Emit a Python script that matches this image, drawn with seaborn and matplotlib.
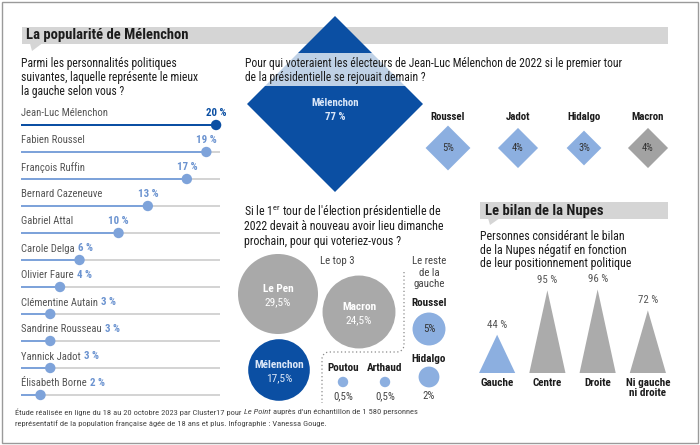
import numpy as np
import matplotlib
matplotlib.use("Agg")
import matplotlib.pyplot as plt
import seaborn as sns
from matplotlib import font_manager as fm
from matplotlib.path import Path
from matplotlib.patches import Rectangle, Polygon

# ---------------- data ----------------
gauche_names = ["Jean-Luc Mélenchon", "Fabien Roussel", "François Ruffin", "Bernard Cazeneuve",
                "Gabriel Attal", "Carole Delga", "Olivier Faure", "Clémentine Autain",
                "Sandrine Rousseau", "Yannick Jadot", "Élisabeth Borne"]
gauche_values = [20, 19, 17, 13, 10, 6, 4, 3, 3, 3, 2]

report_names = ["Mélenchon", "Roussel", "Jadot", "Hidalgo", "Macron"]
report_values = [77, 5, 4, 3, 4]
report_labels = ["77 %", "5%", "4%", "3%", "4%"]

vote_names = ["Le Pen", "Macron", "Mélenchon", "Roussel", "Hidalgo", "Poutou", "Arthaud"]
vote_values = [29.5, 24.5, 17.5, 5, 2, 0.5, 0.5]
vote_labels = ["29,5%", "24,5%", "17,5%", "5%", "2%", "0,5%", "0,5%"]

nupes_cats = ["Gauche", "Centre", "Droite", "Ni gauche\nni droite"]
nupes_values = [44, 95, 96, 72]

# ---------------- style ----------------
sns.set_style("white")
avail = {f.name for f in fm.fontManager.ttflist}
if "Liberation Sans Narrow" in avail:
    FAM = ["Liberation Sans Narrow", "DejaVu Sans"]
elif "Roboto Condensed" in avail:
    FAM = ["Roboto Condensed", "DejaVu Sans"]
else:
    FAM = ["Roboto", "DejaVu Sans"]
plt.rcParams["font.family"] = FAM

DARK = "#0b4fa3"
LIGHT = "#8cafe0"
LOLLI = "#7ea3da"
GREY = "#a9a9a9"
TXT = "#1c1c1c"

W, H = 700, 445
fig = plt.figure(figsize=(7, 4.45), dpi=100)
ax = fig.add_axes([0, 0, 1, 1])
ax.set_xlim(0, W)
ax.set_ylim(H, 0)
ax.axis("off")
R = fig.canvas.get_renderer()


def px_axes(x0, y0, x1, y1):
    a = fig.add_axes([x0 / W, 1 - y1 / H, (x1 - x0) / W, (y1 - y0) / H])
    a.patch.set_alpha(0)
    return a


def to_px(a, x, y):
    dx, dy = a.transData.transform((x, y))
    return dx, H - dy


def T(x, y, s, **kw):
    kw.setdefault("va", "center")
    kw.setdefault("color", TXT)
    return ax.text(x, y, s, **kw)


# ---------------- frame & headers ----------------
ax.add_patch(Rectangle((1.5, 1.5), 696, 441, fill=False, ec="#9a9a9a", lw=1, zorder=0))
ax.add_patch(Rectangle((22, 27), 646, 17, fc="#d5d5d5", ec="none", zorder=1))
ax.add_patch(Polygon([(30, 43.5), (42, 43.5), (32, 51)], fc="#d5d5d5", ec="none", zorder=1))
T(26, 35.5, "La popularité de Mélenchon", fontsize=10.5, fontweight="bold", zorder=6)

ax.add_patch(Rectangle((480, 202), 188, 16.5, fc="#d5d5d5", ec="none", zorder=1))
ax.add_patch(Polygon([(488, 218), (500, 218), (490, 225)], fc="#d5d5d5", ec="none", zorder=1))
T(485, 210.5, "Le bilan de la Nupes", fontsize=10.5, fontweight="bold", zorder=6)

# ---------------- left: lollipop ----------------
for i, line in enumerate(["Parmi les personnalités politiques",
                          "suivantes, laquelle représente le mieux",
                          "la gauche selon vous ?"]):
    T(21, 63 + i * 14.5, line, fontsize=8.4)

n = len(gauche_names)
al = px_axes(21, 125, 220, 395)
colors = [DARK] + [LOLLI] * (n - 1)
sns.barplot(x=[20.4] * n, y=gauche_names, orient="y", color="#d4d4d4", width=0.11,
            saturation=1, linewidth=0, ax=al)
sns.barplot(x=gauche_values, y=gauche_names, orient="y", hue=gauche_names, palette=colors,
            width=0.11, saturation=1, linewidth=0, legend=False, ax=al)
sns.scatterplot(x=gauche_values, y=np.arange(n), hue=gauche_names, palette=colors, s=56,
                linewidth=0, legend=False, ax=al, zorder=5)
al.set_xlim(0, 20.4)
al.set_ylim(10, 0)
al.axis("off")
for a_ in al.patches + al.collections:
    a_.set_clip_on(False)

for i, (nm, v) in enumerate(zip(gauche_names, gauche_values)):
    x0, yb = to_px(al, 0, i)
    xd, _ = to_px(al, v, i)
    t = T(x0, yb - 11.5, nm, fontsize=7.7, color="#555555")
    bb = t.get_window_extent(renderer=R)
    vt = T(0, yb - 12, f"{v} %", fontsize=7.8, fontweight="bold",
           color=DARK if i == 0 else "#6b93d0")
    w = vt.get_window_extent(renderer=R).width
    vt.set_x(max(bb.x1 + 3, xd - w / 2))

# ---------------- top right: diamonds ----------------
for i, line in enumerate(["Pour qui voteraient les électeurs de Jean-Luc Mélenchon de 2022 si le premier tour",
                          "de la présidentielle se rejouait demain ?"]):
    T(245, 63 + i * 15, line, fontsize=8.4, zorder=6)
ax.add_patch(Rectangle((240, 53), 420, 33, fc="white", alpha=0.74, ec="none", zorder=4))

dia_x = [335, 448, 518, 584, 648]
dia_y = [104, 148, 148, 148, 148]
diamond = Path([(0, 1), (1, 0), (0, -1), (-1, 0), (0, 1)],
               [Path.MOVETO, Path.LINETO, Path.LINETO, Path.LINETO, Path.CLOSEPOLY])
kd = 208.5
sns.scatterplot(x=dia_x, y=dia_y, hue=report_names, palette=[DARK, LIGHT, LIGHT, LIGHT, "#a2a2a2"],
                size=report_values, sizes=(kd * min(report_values), kd * max(report_values)),
                size_norm=(min(report_values), max(report_values)), marker=diamond,
                linewidth=0, legend=False, ax=ax, zorder=3)
ax.set_xlim(0, W)
ax.set_ylim(H, 0)
ax.axis("off")
T(dia_x[0], 103, report_names[0], fontsize=7.8, fontweight="bold", color="#dbe7f8", ha="center", zorder=6)
T(dia_x[0], 117, report_labels[0], fontsize=7.8, fontweight="bold", color="#dbe7f8", ha="center", zorder=6)
for i in range(1, len(report_names)):
    T(dia_x[i], 117, report_names[i], fontsize=7.8, fontweight="bold", ha="center", zorder=6)
    T(dia_x[i], dia_y[i], report_labels[i], fontsize=7.6, color="#333333", ha="center", zorder=6)

# ---------------- middle: circles ----------------
for i, line in enumerate([r"Si le 1$^{\mathregular{er}}$ tour de l'élection présidentielle de",
                          "2022 devait à nouveau avoir lieu dimanche",
                          "prochain, pour qui voteriez-vous ?"]):
    T(244, 212 + i * 14.5, line, fontsize=8.6)

cx = [278, 359, 279, 429, 429, 343, 385]
cy = [294, 312, 370, 329, 377, 382, 382]
kc = 112.5
sns.scatterplot(x=cx, y=cy, hue=vote_names,
                palette=[GREY, GREY, DARK, LIGHT, LIGHT, LIGHT, LIGHT],
                size=vote_values, sizes=(kc * min(vote_values), kc * max(vote_values)),
                size_norm=(min(vote_values), max(vote_values)),
                linewidth=0, legend=False, ax=ax, zorder=3)
ax.set_xlim(0, W)
ax.set_ylim(H, 0)
ax.axis("off")

for i in range(3):
    col = "white" if i < 2 else "#dbe7f8"
    T(cx[i], cy[i] - 5, vote_names[i], fontsize=8.2, fontweight="bold", color=col, ha="center", zorder=6)
    T(cx[i], cy[i] + 8, vote_labels[i], fontsize=8.2, color=col, ha="center", zorder=6)
T(337, 261, "Le top 3", fontsize=7.8, color="#444444", ha="center")
for j, line in enumerate(["Le reste", "de la", "gauche"]):
    T(429, 261 + j * 11.5, line, fontsize=7.8, color="#444444", ha="center")
T(cx[3], 303, vote_names[3], fontsize=8, fontweight="bold", ha="center")
T(cx[3], cy[3], vote_labels[3], fontsize=7.8, color="#333333", ha="center", zorder=6)
T(cx[4], 359, vote_names[4], fontsize=8, fontweight="bold", ha="center")
T(cx[4], 396, vote_labels[4], fontsize=7.8, color="#444444", ha="center")
for i in (5, 6):
    T(cx[i], 368, vote_names[i], fontsize=8, fontweight="bold", ha="center")
    T(cx[i], 396, vote_labels[i], fontsize=7.8, color="#444444", ha="center")

# dotted separator
th1 = np.linspace(0, np.pi / 2, 8)
px = [404, 404] + list(397 + 7 * np.cos(th1)) + [329] + list(329 - 7 * np.sin(th1)) + [322]
py = [272, 345] + list(345 + 7 * np.sin(th1)) + [352] + list(359 - 7 * np.cos(th1)) + [403]
ax.plot(px, py, ls=(0, (1, 2)), color="#8a8a8a", lw=0.9, zorder=2)

# ---------------- right: triangles ----------------
for i, line in enumerate(["Personnes considérant le bilan",
                          "de la Nupes négatif en fonction",
                          "de leur positionnement politique"]):
    T(480, 237 + i * 13.5, line, fontsize=8.6)

at = px_axes(472, 286, 673, 373)
at.set_xlim(-0.5, 3.5)
at.set_ylim(0, 100)
at.axis("off")
tri_cols = [LIGHT, "#ababab", "#ababab", "#ababab"]
for i, (c, v) in enumerate(zip(nupes_cats, nupes_values)):
    at.add_patch(Polygon([(i - 0.36, 0), (i, v), (i + 0.36, 0)], fc=tri_cols[i], ec="none"))
    xp, yp = to_px(at, i, v)
    T(xp, yp - 10, f"{v} %", fontsize=7.8, color="#555555", ha="center")
    xb, yb = to_px(at, i, 0)
    T(xb, yb + 4.5, c, fontsize=8, fontweight="bold", ha="center", va="top", linespacing=1.1)

# ---------------- footer ----------------
x = 15
for s, kw in [("Étude réalisée en ligne du 18 au 20 octobre 2023 par Cluster17 pour", {}),
              ("Le Point", {"style": "italic"}),
              ("auprès d'un échantillon de 1 580 personnes", {})]:
    t = T(x, 412, s, fontsize=6.1, color="#444444", **kw)
    x += t.get_window_extent(renderer=R).width + 2.2
T(15, 424, "représentatif de la population française âgée de 18 ans et plus. Infographie : Vanessa Gouge.",
  fontsize=6.1, color="#444444")

fig.savefig("out.png", dpi=100)
